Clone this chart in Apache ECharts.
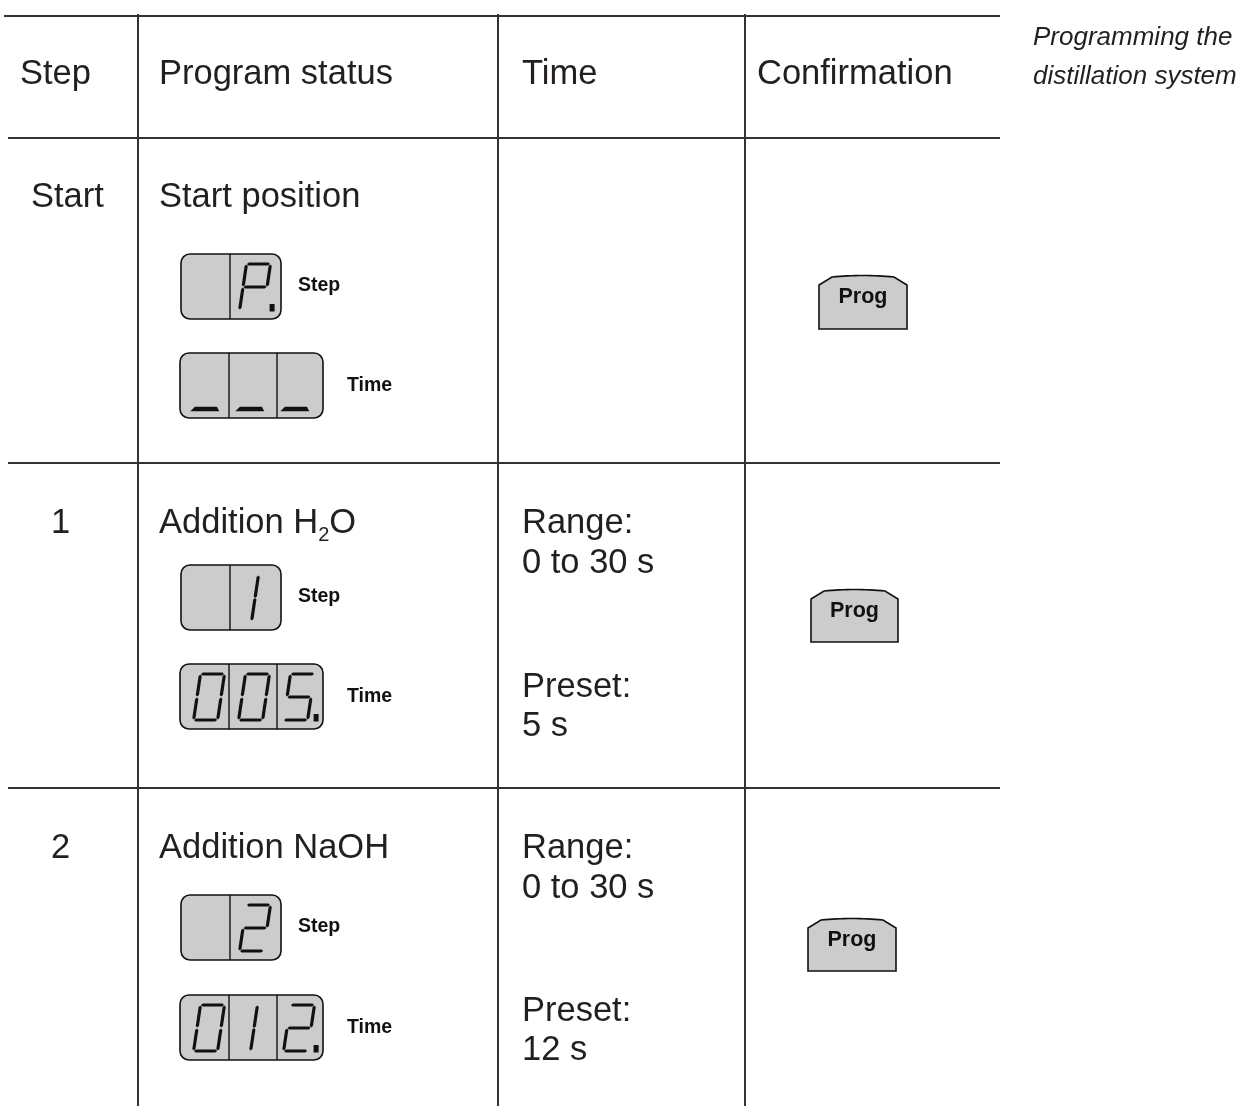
<!DOCTYPE html>
<html>
<head>
<meta charset="utf-8">
<script src="https://cdn.jsdelivr.net/npm/echarts@6/dist/echarts.min.js"></script>
<style>
html,body{margin:0;padding:0;background:#fff;}
#chart{width:1244px;height:1106px;}
</style>
</head>
<body>
<div id="chart"></div>
<script>
// ---------- data ----------
const headers = ['Step', 'Program status', 'Time', 'Confirmation'];
const sideNote = ['Programming the', 'distillation system'];
const steps = ['Start', '1', '2'];
const statusMain = ['Start position', 'Addition H', 'Addition NaOH'];
const statusSub = ['', '2', ''];
const statusTail = ['', 'O', ''];
const stepDisplay = [' P.', ' 1', ' 2'];
const timeDisplay = ['___', '005.', '012.'];
const rangeLabel = ['', 'Range:', 'Range:'];
const rangeValue = ['', '0 to 30 s', '0 to 30 s'];
const presetLabel = ['', 'Preset:', 'Preset:'];
const presetValue = ['', '5 s', '12 s'];
const displayLabels = ['Step', 'Time'];
const buttonLabel = 'Prog';

// ---------- layout (positions / sizes) ----------
const hLines = [16, 138, 463, 788];
const vLines = [138, 498, 745];
const colText = [20, 159, 522, 757];
const rowTextY = [197, 523, 848];
const rowLine2Dy = 40;
const presetY = [0, 687, 1011];
const stepDispTop = [254, 565, 895];
const timeDispTop = [353, 664, 995];
const btnBox = [[819, 276, 907, 329], [811, 590, 898, 642], [808, 919, 896, 971]];

const FONT = "'Liberation Sans', Arial, Helvetica, sans-serif";
const INK = '#231f20';
const FS = 34.5;
const els = [];

function text(x, y, s, size, opt) {
  opt = opt || {};
  els.push({
    type: 'text', z: 10,
    style: {
      x: x, y: y, text: s,
      font: (opt.style || '') + ' ' + (opt.weight || 'normal') + ' ' + size + 'px ' + FONT,
      fill: opt.fill || INK,
      align: opt.align || 'left',
      verticalAlign: 'middle'
    }
  });
}
function measure(s, size) {
  const c = document.createElement('canvas').getContext('2d');
  c.font = size + 'px ' + FONT;
  return c.measureText(s).width;
}

// grid lines
hLines.forEach((y, i) => els.push({type: 'line', shape: {x1: i === 0 ? 4 : 8, y1: y, x2: 1000, y2: y}, style: {stroke: '#333', lineWidth: 2}}));
vLines.forEach(x => els.push({type: 'line', shape: {x1: x, y1: 14, x2: x, y2: 1106}, style: {stroke: '#333', lineWidth: 2}}));

// header
headers.forEach((h, i) => text(colText[i], 74, h, FS));
text(1033, 38, sideNote[0], 26, {style: 'italic'});
text(1033, 77, sideNote[1], 26, {style: 'italic'});

// seven segment
const W = 24, H = 46, K = 0.15, T = 3.2, GAP = 0.5;
const SEG = {
  '0': 'abcdef', '2': 'abged', '5': 'afgcd', 'P': 'abfge', '_': 'U', '1': 'BC', ' ': ''
};
function segPoly(name, t) {
  const h2 = H / 2, ht = t / 2;
  function hor(x1, x2, y) {
    x1 += GAP; x2 -= GAP;
    return [[x1, y], [x1 + ht, y - ht], [x2 - ht, y - ht], [x2, y], [x2 - ht, y + ht], [x1 + ht, y + ht]];
  }
  function ver(x, y1, y2) {
    y1 += GAP; y2 -= GAP;
    return [[x, y1], [x + ht, y1 + ht], [x + ht, y2 - ht], [x, y2], [x - ht, y2 - ht], [x - ht, y1 + ht]];
  }
  switch (name) {
    case 'a': return hor(0, W, 0);
    case 'b': return ver(W, 0, h2);
    case 'c': return ver(W, h2, H);
    case 'd': return hor(0, W, H);
    case 'e': return ver(0, h2, H);
    case 'f': return ver(0, 0, h2);
    case 'g': return hor(0, W, h2);
    case 'B': return ver(W * 0.5, 0, h2 + 0.6);
    case 'C': return ver(W * 0.5, h2 - 0.6, H);
    case 'U': return [[-3, H + 2.2], [1, H - 2.2], [W - 1, H - 2.2], [W + 2, H + 2.2]];
  }
}
function digit(x0, y0, ch, dot) {
  const segs = SEG[ch] || '';
  for (const s of segs) {
    const pts = segPoly(s, T).map(p => [x0 + p[0] + (H - p[1]) * K, y0 + p[1]]);
    els.push({type: 'polygon', z: 6, shape: {points: pts}, style: {fill: '#111'}});
  }
  if (dot) {
    els.push({type: 'rect', z: 6, shape: {x: x0 + W + 6, y: y0 + H - 6, width: 5, height: 7.5}, style: {fill: '#111'}});
  }
}
function display(left, top, str) {
  const cells = [];
  for (const ch of str) {
    if (ch === '.') cells[cells.length - 1].dot = true;
    else cells.push({ch: ch, dot: false});
  }
  const n = cells.length;
  const width = n === 2 ? 100 : 143;
  els.push({type: 'rect', z: 5, shape: {x: left, y: top, width: width, height: 65, r: 9},
    style: {fill: '#cccccc', stroke: '#111', lineWidth: 1.6}});
  for (let i = 1; i < n; i++) {
    const dx = left + (i === 1 ? 49 : 97);
    els.push({type: 'line', z: 5, shape: {x1: dx, y1: top, x2: dx, y2: top + 65}, style: {stroke: '#111', lineWidth: 1.4}});
  }
  cells.forEach((c, i) => digit(left + 12 + 45 * i + T / 2, top + 10, c.ch, c.dot));
  return width;
}
function button(b, label) {
  const [L, Tp, R, B] = b;
  const pts = [[L, B], [L, Tp + 9]];
  const p0 = [L + 13, Tp + 1], p1 = [(L + R) / 2, Tp - 2], p2 = [R - 13, Tp + 1];
  for (let i = 0; i <= 16; i++) {
    const u = i / 16;
    pts.push([
      (1 - u) * (1 - u) * p0[0] + 2 * u * (1 - u) * p1[0] + u * u * p2[0],
      (1 - u) * (1 - u) * p0[1] + 2 * u * (1 - u) * p1[1] + u * u * p2[1]
    ]);
  }
  pts.push([R, Tp + 9], [R, B]);
  els.push({type: 'polygon', z: 5, shape: {points: pts},
    style: {fill: '#cccccc', stroke: '#111', lineWidth: 1.6}});
  text((L + R) / 2, Tp + 21, label, 21.5, {weight: 'bold', align: 'center', fill: '#111'});
}

// rows
steps.forEach((s, r) => {
  const y = rowTextY[r];
  text(r === 0 ? 31 : 51, y, s, FS);
  text(colText[1], y, statusMain[r], FS);
  if (statusSub[r]) {
    const w1 = measure(statusMain[r], FS);
    text(colText[1] + w1, y + 12, statusSub[r], 20);
    const w2 = measure(statusSub[r], 20);
    text(colText[1] + w1 + w2, y, statusTail[r], FS);
  }
  if (rangeLabel[r]) {
    text(colText[2], y, rangeLabel[r], FS);
    text(colText[2], y + rowLine2Dy, rangeValue[r], FS);
    text(colText[2], presetY[r], presetLabel[r], FS);
    text(colText[2], presetY[r] + 39, presetValue[r], FS);
  }
  display(181, stepDispTop[r], stepDisplay[r]);
  text(298, stepDispTop[r] + 32, displayLabels[0], 19.5, {weight: 'bold', fill: '#111'});
  display(180, timeDispTop[r], timeDisplay[r]);
  text(347, timeDispTop[r] + 33, displayLabels[1], 19.5, {weight: 'bold', fill: '#111'});
  button(btnBox[r], buttonLabel);
});

const chart = echarts.init(document.getElementById('chart'), null, {renderer: 'canvas'});
chart.setOption({backgroundColor: '#fff', animation: false, graphic: {elements: els}});
</script>
</body>
</html>
